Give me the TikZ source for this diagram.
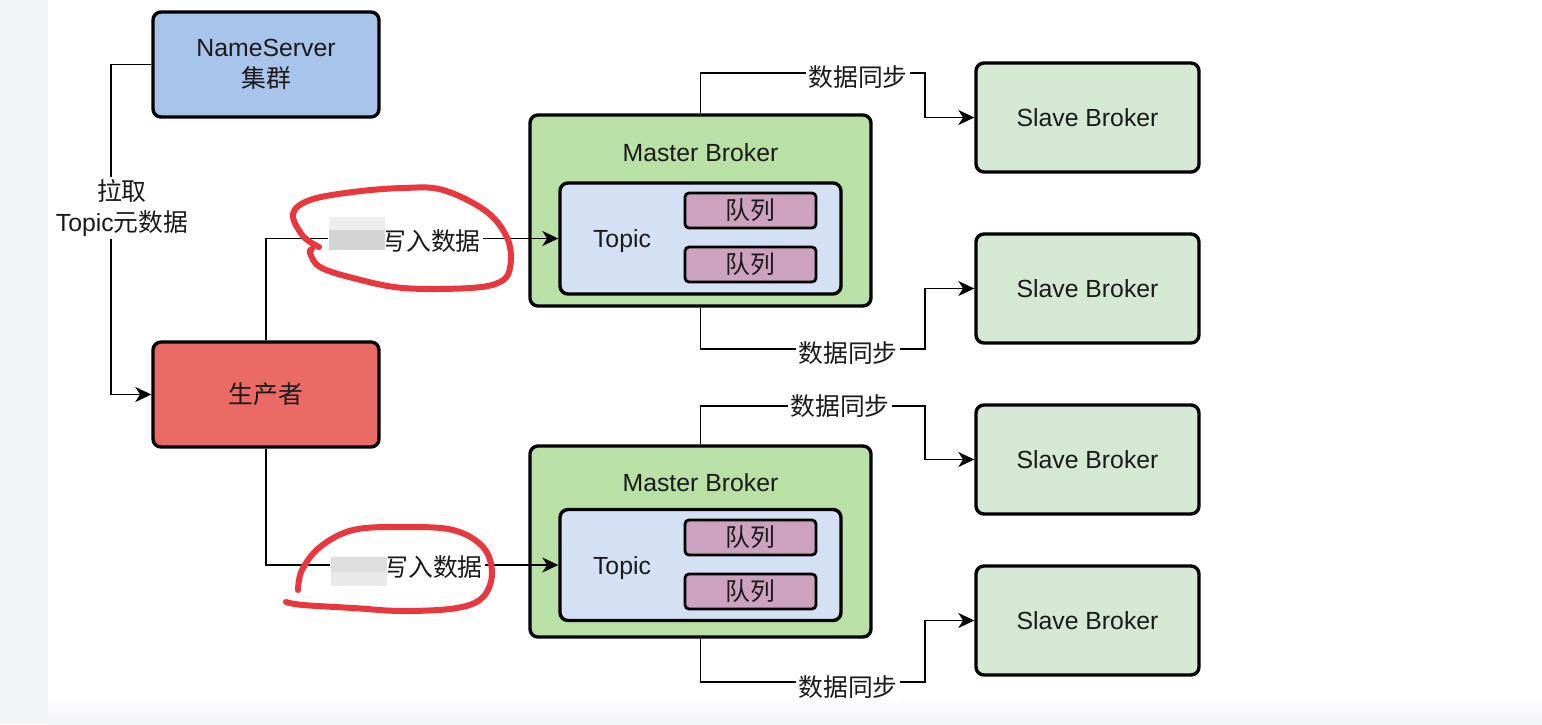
\documentclass[tikz,border=0pt]{standalone}
\usepackage{fontspec}
\setmainfont{Liberation Sans}
\newfontfamily\cjk{Noto Sans CJK SC}
\usetikzlibrary{arrows.meta}
\definecolor{nsblue}{HTML}{A9C4EB}
\definecolor{prodred}{HTML}{EA6B66}
\definecolor{mgreen}{HTML}{B9E0A5}
\definecolor{tblue}{HTML}{D4E1F5}
\definecolor{qpurple}{HTML}{CDA2BE}
\definecolor{sgreen}{HTML}{D5E8D4}
\definecolor{markred}{HTML}{E8383D}
\definecolor{leftgray}{HTML}{F3F4F6}
\definecolor{txt}{HTML}{1A1A1A}
\begin{document}
\begin{tikzpicture}[x=0.5pt,y=-0.5pt,
  font=\fontsize{12.4}{15.5}\selectfont, text=txt,
  box/.style={draw=black, line width=1.7pt, rounded corners=4pt, align=center, inner sep=0pt},
  qbox/.style={box, fill=qpurple, line width=1.4pt, rounded corners=2pt, minimum width=65.5pt, minimum height=17.5pt},
  slave/.style={box, fill=sgreen, minimum width=111.5pt, minimum height=54.5pt},
  master/.style={box, fill=mgreen, minimum width=170.5pt, minimum height=95.5pt},
  topicbox/.style={box, fill=tblue, minimum width=140.5pt, minimum height=55.5pt},
  conn/.style={draw=black, line width=0.85pt},
  arr/.style={conn, -{Stealth[length=8pt,width=7.5pt,inset=2.4pt]}},
  lbl/.style={fill=white, inner sep=1pt, align=center},
  redmark/.style={draw=markred, line width=3pt, line cap=round, line join=round}]
\useasboundingbox (0,0) rectangle (1542,724);
\fill[white] (0,0) rectangle (1542,724);
\fill[leftgray] (0,0) rectangle (48,724);
\shade[top color=white, bottom color=leftgray] (48,692) rectangle (1542,724);

% nodes
\node[box, fill=nsblue, minimum width=113pt, minimum height=52.5pt] (ns) at (266,64.5) {NameServer\\{\cjk 集群}};
\node[box, fill=prodred, minimum width=113pt, minimum height=52.5pt] (prod) at (266,394.5) {\cjk 生产者};

\node[master] (m1) at (700.5,210.5) {};
\node (m1t) at (700.5,153) {Master Broker};
\node[topicbox] (t1) at (700.5,238.5) {};
\node (t1t) at (622,241) {Topic};
\node[qbox] (q1a) at (750.5,210.5) {\cjk 队列};
\node[qbox] (q1b) at (750.5,264.5) {\cjk 队列};

\node[master] (m2) at (700.5,541.5) {};
\node (m2t) at (700.5,483) {Master Broker};
\node[topicbox] (t2) at (700.5,565) {};
\node (t2t) at (622,568) {Topic};
\node[qbox] (q2a) at (750.5,537.5) {\cjk 队列};
\node[qbox] (q2b) at (750.5,591.5) {\cjk 队列};

\node[slave] (s1) at (1087.5,117.5) {Slave Broker};
\node[slave] (s2) at (1087.5,288.5) {Slave Broker};
\node[slave] (s3) at (1087.5,459.5) {Slave Broker};
\node[slave] (s4) at (1087.5,620.5) {Slave Broker};

% connectors
\draw[arr] (ns.west) -- ++(-40,0) |- (prod.west);
\draw[arr] (prod.north) |- (t1.west);
\draw[arr] (prod.south) |- (t2.west);
\coordinate (j1) at (925,73);
\coordinate (j2) at (925,349);
\coordinate (j3) at (925,406);
\coordinate (j4) at (925,682);
\draw[arr] (m1.north) |- (j1) |- (s1.west);
\draw[arr] (m1.south) |- (j2) |- (s2.west);
\draw[arr] (m2.north) |- (j3) |- (s3.west);
\draw[arr] (m2.south) |- (j4) |- (s4.west);

% labels
\node[lbl] (pull) at (122,208) {{\cjk 拉取}\\Topic{\cjk 元数据}};
\node[lbl] (w1) at (431,241) {\cjk 写入数据};
\node[lbl] (w2) at (433,567) {\cjk 写入数据};
\node[lbl] (d1) at (858,77) {\cjk 数据同步};
\node[lbl] (d2) at (848,353) {\cjk 数据同步};
\node[lbl] (d3) at (840,406) {\cjk 数据同步};
\node[lbl] (d4) at (848,687) {\cjk 数据同步};

% blurred patches
\fill[white] (328,216) rectangle (386,252);
\fill[gray!14] (329,217) rectangle (385,230);
\fill[gray!34] (329,230) rectangle (385,250);
\fill[white] (330,555) rectangle (388,588);
\fill[gray!26] (331,557) rectangle (387,572);
\fill[gray!17] (331,572) rectangle (387,586);

% red hand-drawn marks
\draw[redmark] plot[smooth, tension=0.6] coordinates {(319,247) (303,236) (293,214) (310,200) (353,192) (403,188) (443,190) (487,212) (508,240) (510,268) (500,282) (470,288) (403,288) (353,278) (320,267) (310,253) (312,249)};
\draw[redmark] plot[smooth, tension=0.6] coordinates {(298,590) (302,570) (320,547) (353,530) (403,527) (453,530) (483,547) (492,573) (483,597) (457,608) (403,611) (353,608) (303,605) (286,602)};
\end{tikzpicture}
\end{document}
